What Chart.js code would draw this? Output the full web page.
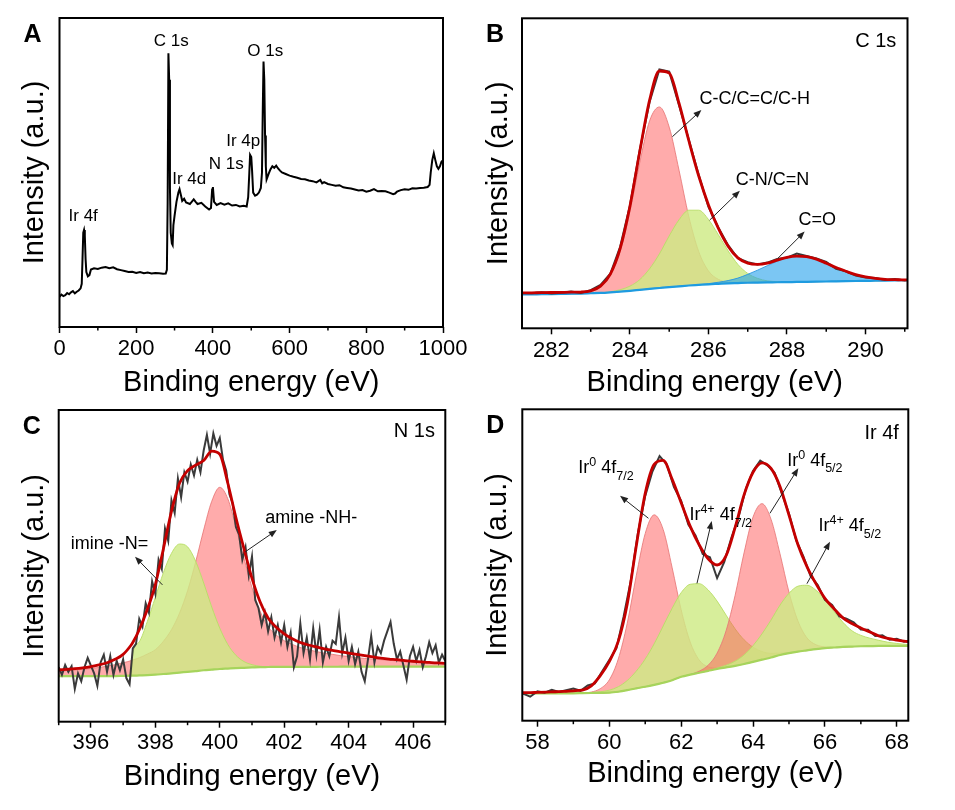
<!DOCTYPE html>
<html><head><meta charset="utf-8">
<script src="https://cdn.jsdelivr.net/npm/chart.js@4.4.1/dist/chart.umd.min.js"></script>
<style>
html,body{margin:0;padding:0;background:#fff;}
body{width:955px;height:810px;position:relative;overflow:hidden;}
canvas{position:absolute;left:0;top:0;}
</style></head><body>
<canvas id="pA" width="955" height="810"></canvas>
<canvas id="pB" width="955" height="810"></canvas>
<canvas id="pC" width="955" height="810"></canvas>
<canvas id="pD" width="955" height="810"></canvas>
<script>
// ---------------- Panel A: survey ----------------
const surveyEnergy = [
 0,5,10,15,20,25,30,35,40,45,
 50,55,58,60,62,64,66,68,70,74,
 78,82,90,100,110,120,130,140,150,160,
 170,180,190,200,210,220,230,240,250,260,
 270,277,280,282,284,286,288,290,293,295,
 297,300,305,310,313,317,320,325,330,340,
 350,355,360,370,380,390,395,398,400,403,
 410,420,430,440,450,460,470,480,488,492,
 495,497,500,502,505,510,515,520,525,528,
 530,532,534,536,538,540,545,550,555,560,
 565,570,575,580,590,600,610,620,630,640,
 650,660,670,680,685,690,700,710,720,730,
 740,750,760,770,780,790,800,810,820,830,
 840,850,860,870,875,880,890,900,910,920,
 930,940,950,960,965,968,972,976,980,984,
 988,992,996,1000];
const surveyIntensity = [
 9.8,10.5,10.0,10.3,11.0,10.6,11.2,11.6,10.9,11.4,
 11.8,12.5,14,22,30.5,31.4,29.5,22,17.8,16.4,
 16.8,18.6,19.0,18.8,19.2,19.4,19.0,19.3,18.7,18.4,
 18.1,17.8,17.9,17.5,17.8,17.4,17.6,17.3,17.5,17.4,
 17.2,17.3,18.5,40,88.6,80,45,30.5,27.0,26.5,
 33,36,40.5,43.5,44.6,42.5,40.8,41.5,40.3,39.8,
 41.3,40.5,39.8,40.2,39.0,38.0,38.5,44.5,45.3,40.5,
 39.5,40.1,39.6,40.0,39.3,39.5,39.0,39.2,39.0,42,
 50,55.7,55.0,51,43.5,42.5,42.8,43.5,45.0,50.0,
 70,85.9,80,62,52,47.8,49.5,51.0,52.0,51.5,
 52.2,51.3,50.6,50.0,49.5,49.0,48.6,48.3,47.9,47.8,
 47.4,47.2,46.8,47.6,46.5,46.9,46.3,46.0,45.7,45.9,
 45.2,45.0,44.8,44.5,44.2,44.3,43.8,44.1,44.6,43.9,
 44.0,43.9,43.5,43.0,43.2,43.8,44.3,44.6,44.4,44.9,
 44.8,45.0,45.1,45.3,46,50,54,56.2,54,52.0,
 51.2,52.0,53.5,54];
const surveyTicks = [0,200,400,600,800,1000];

// ---------------- Panel B: C 1s ----------------
const c1sEnergy = [281,281.25,281.5,281.75,282,282.25,282.5,282.75,283,283.25,
 283.5,283.75,284,284.25,284.5,284.75,285,285.25,285.5,285.75,
 286,286.25,286.5,286.75,287,287.25,287.5,287.75,288,288.25,
 288.5,288.75,289,289.25,289.5,289.75,290,290.25,290.5,290.75,
 291,291.25];
const c1sRaw = [11.6,11.4,11.3,11.6,11.2,11.5,11.9,11.4,12.3,14.0,
 17.6,26.3,39.6,57.5,73.0,83.5,82.8,72.0,60.8,49.5,
 39.2,32.5,26.8,22.6,21.3,20.6,21.2,22.4,22.8,24.1,
 23.3,22.5,21.4,19.2,18.4,17.0,16.4,16.2,15.6,15.9,
 15.4,15.9];
const c1sEnvelope = [11.4,11.4,11.45,11.5,11.55,11.6,11.65,11.7,12.1,13.6,
 17.5,25.7,39.4,57.0,73.6,83.0,82.3,72.6,60.5,49.2,
 39.8,32.3,26.5,22.7,21.0,20.6,21.0,22.0,22.9,23.3,
 23.1,22.3,21.0,19.6,18.4,17.3,16.6,16.1,15.8,15.7,
 15.6,15.6];
const c1sBaseline = [10.9,10.9,10.95,11.0,11.05,11.1,11.15,11.2,11.3,11.4,
 11.6,11.85,12.1,12.4,12.7,13.0,13.3,13.55,13.8,14.0,
 14.2,14.35,14.5,14.6,14.7,14.75,14.8,14.85,14.9,14.95,
 15.0,15.05,15.1,15.15,15.2,15.25,15.3,15.35,15.4,15.45,
 15.5,15.5];
const c1sCC = [10.9,10.9,10.95,11.0,11.05,11.1,11.15,11.2,11.8,13.3,
 17.1,24.9,37.7,53.5,66.9,71.4,64.9,51,36,24.8,
 18.5,15.8,14.9,14.65,14.7,14.75,14.8,14.85,14.9,14.95,
 15.0,15.05,15.1,15.15,15.2,15.25,15.3,15.35,15.4,15.45,
 15.5,15.5];
const c1sCN = [10.9,10.9,10.95,11.0,11.05,11.1,11.15,11.2,11.3,11.4,
 11.8,12.45,13.6,15.7,19.2,24.0,29.8,35.0,38.1,38.1,
 35.1,30.2,25.0,20.6,17.7,16.1,15.3,15.05,14.9,14.95,
 15.0,15.05,15.1,15.15,15.2,15.25,15.3,15.35,15.4,15.45,
 15.5,15.5];
const c1sCO = [10.9,10.9,10.95,11.0,11.05,11.1,11.15,11.2,11.3,11.4,
 11.6,11.85,12.1,12.4,12.7,13.0,13.3,13.55,13.8,14.0,
 14.4,14.85,15.4,16.2,17.4,18.75,20.2,21.65,22.8,23.25,
 23.0,22.15,20.9,19.45,18.2,17.15,16.4,15.9,15.7,15.55,
 15.55,15.5];
const c1sTicks = [282,284,286,288,290];

// ---------------- Panel C: N 1s ----------------
const n1sEnergy = [395,395.25,395.5,395.75,396,396.25,396.5,396.75,397,397.25,
 397.3,
 397.5,397.75,398,398.25,398.5,398.75,399,399.25,399.5,399.75,400,
 400.25,400.5,400.75,401,401.25,401.5,401.75,402,402.25,402.5,
 402.75,403,403.25,403.5,403.75,404,404.25,404.5,404.75,405,
 405.25,405.5,405.75,406,406.25,406.5,406.75,407];
const n1sEnvelope = [16.6,16.8,17.0,17.3,17.7,18.2,18.9,20.0,21.6,24.6,
 25.4,
 29.5,36,44,55.5,67.5,76.5,80.5,82.3,83.8,86.8,85.8,
 76.5,65.5,55.5,46,38.5,33.3,30.3,28.2,26.6,25.4,
 24.6,24.0,23.4,22.9,22.4,22.0,21.6,21.2,20.8,20.4,
 20.1,19.9,19.6,19.4,19.2,19.0,18.85,18.7];
const n1sBaseline = [14.6,14.6,14.6,14.6,14.6,14.6,14.65,14.65,14.7,14.75,
 14.76,
 14.85,14.95,15.1,15.3,15.5,15.75,16.0,16.25,16.5,16.7,16.9,
 17.05,17.2,17.3,17.4,17.5,17.55,17.6,17.6,17.6,17.6,
 17.62,17.62,17.63,17.63,17.64,17.65,17.65,17.66,17.67,17.67,
 17.68,17.68,17.69,17.7,17.7,17.7,17.7,17.7];
const n1sAmine = [16.2,16.4,16.6,16.8,17.1,17.4,17.8,18.3,18.9,19.6,
 19.8,
 20.5,21.7,23.1,25.8,29.5,34.8,42,51.2,61.5,70.7,75.2,
 71.5,62.5,52.5,43.0,35.5,30.5,27.8,26.0,24.8,23.8,
 23.1,22.5,22.0,21.6,21.2,20.9,20.6,20.3,20.1,19.9,
 19.7,19.5,19.3,19.15,19.0,18.85,18.75,18.6];
const n1sImine = [14.6,14.6,14.6,14.6,14.6,14.6,14.65,14.65,14.7,14.75,
 21.8,
 25.6,32.1,39.9,47.8,54.0,57.0,56.1,51.5,44.5,36.8,30.0,
 24.75,21.3,19.3,18.3,17.8,17.6,17.6,17.6,17.6,17.6,
 17.62,17.62,17.63,17.63,17.64,17.65,17.65,17.66,17.67,17.67,
 17.68,17.68,17.69,17.7,17.7,17.7,17.7,17.7];
const n1sRawEnergy = [
 395.0,395.1,395.2,395.3,395.4,395.5,395.6,395.7,395.8,395.9,
 396.0,396.1,396.2,396.3,396.4,396.5,396.6,396.7,396.8,396.9,
 397.0,397.1,397.2,397.3,397.4,397.5,397.6,397.7,397.8,397.9,
 398.0,398.1,398.2,398.3,398.4,398.5,398.6,398.7,398.8,398.9,
 399.0,399.1,399.2,399.3,399.4,399.5,399.6,399.7,399.8,399.9,
 400.0,400.1,400.2,400.3,400.4,400.5,400.6,400.7,400.8,400.9,
 401.0,401.1,401.2,401.3,401.4,401.5,401.6,401.7,401.8,401.9,
 402.0,402.1,402.2,402.3,402.4,402.5,402.6,402.7,402.8,402.9,
 403.0,403.1,403.2,403.3,403.4,403.5,403.6,403.7,403.8,403.9,
 404.0,404.1,404.2,404.3,404.4,404.5,404.6,404.7,404.8,404.9,
 405.0,405.1,405.2,405.3,405.4,405.5,405.6,405.7,405.8,405.9,
 406.0,406.1,406.2,406.3,406.4,406.5,406.6,406.7,406.8,406.9,
 407.0];
const n1sRaw = [
 17.5,15.0,18.2,16.0,17.8,10.5,15.5,13.0,17.5,20.5,
 18.0,15.5,11.5,19.0,21.5,16.0,21.0,15.0,19.5,16.5,
 20.0,14.0,12.0,23.5,25.0,33.0,30.5,38.0,35.0,45.0,
 41.0,52.0,49.0,62.0,58.0,71.0,67.0,78.0,72.0,80.0,
 77.0,82.5,79.0,84.0,80.0,87.0,92.0,86.0,92.5,88.5,
 91.0,84.0,80.5,73.0,70.0,62.5,60.0,52.0,56.0,47.0,
 53.0,39.0,36.5,31.0,35.0,29.0,33.5,27.0,31.0,25.5,
 31.0,24.0,28.5,17.5,21.0,31.5,22.0,27.0,20.0,30.0,
 21.5,29.5,19.0,24.0,21.0,26.0,25.0,33.5,22.0,27.0,
 19.5,24.0,18.5,22.5,16.0,13.0,20.0,27.5,19.0,24.0,
 22.0,26.0,29.0,32.0,25.0,20.0,22.5,18.0,13.5,21.0,
 24.0,19.5,23.0,17.5,21.0,25.5,22.0,24.5,19.0,21.5,
 19.5];
const n1sTicks = [396,398,400,402,404,406];

// ---------------- Panel D: Ir 4f ----------------
const ir4fEnergy = [57.5,57.75,58,58.25,58.5,58.75,59,59.25,59.5,59.75,
 60,60.25,60.5,60.75,61,61.25,61.5,61.75,62,62.25,
 62.5,62.75,63,63.25,63.5,63.75,64,64.25,64.5,64.75,
 65,65.25,65.5,65.75,66,66.25,66.5,66.75,67,67.25,
 67.5,67.75,68,68.25,68.5];
const ir4fEnvelope = [9.0,9.0,9.1,9.2,9.3,9.4,9.6,9.8,11.2,14.5,
 19.0,25.5,37.5,56,73,82.3,83.6,77.5,70,62.5,
 56.5,52,50.0,53,62,72.5,79.8,82.8,81.0,75.2,
 66,56.5,49.5,44,39.3,36,33,31.2,29.8,28.5,
 27.2,26.4,25.9,25.5,25.3];
const ir4fBaseline = [8.8,8.8,8.8,8.8,8.8,8.8,8.8,8.85,8.9,8.95,
 9.0,9.3,9.8,10.4,10.9,11.5,12.2,13.0,14.1,14.8,
 15.4,16.0,16.6,17.1,17.6,18.2,18.9,19.6,20.3,21.1,
 21.7,22.2,22.6,23.0,23.3,23.5,23.7,23.8,23.9,23.95,
 24.0,24.0,24.0,24.0,24.0];
const ir0_72 = [8.8,8.8,8.8,8.8,8.8,8.8,8.8,8.85,9.2,10.3,
 13.1,19.8,31.3,46.5,60.1,66.1,61.4,49.1,35.6,25.3,
 19.5,17.3,16.9,17.1,17.6,18.2,18.9,19.6,20.3,21.1,
 21.7,22.2,22.6,23.0,23.3,23.5,23.7,23.8,23.9,23.95,
 24.0,24.0,24.0,24.0,24.0];
const ir4_72 = [8.8,8.8,8.8,8.8,8.8,8.8,8.8,8.85,9.0,9.3,
 9.8,10.9,12.9,15.9,19.8,24.7,30.4,36.1,41.1,43.8,
 44.0,42.0,38.4,33.9,29.5,26.0,23.6,22.2,21.6,21.7,
 21.9,22.3,22.6,23.0,23.3,23.5,23.7,23.8,23.9,23.95,
 24.0,24.0,24.0,24.0,24.0];
const ir0_52 = [8.8,8.8,8.8,8.8,8.8,8.8,8.8,8.85,8.9,8.95,
 9.0,9.3,9.8,10.4,10.9,11.5,12.2,13.0,14.1,14.8,
 15.9,17.8,21.7,28.9,40.2,53.9,65.4,69.7,64.7,53.6,
 41.3,32.0,26.6,24.4,23.7,23.55,23.7,23.8,23.9,23.95,
 24.0,24.0,24.0,24.0,24.0];
const ir4_52 = [8.8,8.8,8.8,8.8,8.8,8.8,8.8,8.85,8.9,8.95,
 9.0,9.3,9.8,10.4,10.9,11.5,12.2,13.0,14.1,14.8,
 15.4,16.0,16.9,17.8,19.1,21.1,24.1,27.9,32.3,37.1,
 40.9,43.2,43.5,41.9,38.8,35.1,31.6,28.9,27.4,26.5,
 25.8,25.2,24.8,24.5,24.3];
const ir4fRawEnergy = [57.5,
 57.6,57.8,58.0,58.2,58.4,58.6,58.8,59.0,59.2,59.4,
 59.6,59.8,60.0,60.2,60.4,60.6,60.8,61.0,61.2,61.4,
 61.6,61.8,62.0,62.2,62.4,62.6,62.8,63.0,63.2,63.4,
 63.6,63.8,64.0,64.2,64.4,64.6,64.8,65.0,65.2,65.4,
 65.6,65.8,66.0,66.2,66.4,66.6,66.8,67.0,67.2,67.4,
 67.6,67.8,68.0,68.2,68.4];
const ir4fRaw = [9.1,
 8.7,7.7,9.4,9.0,9.9,9.2,9.8,10.3,9.6,11.3,
 12.0,15.8,19.5,23.3,33.5,45.0,60.5,72.2,80.0,85.0,
 82.3,75.0,70.6,63.0,59.5,53.5,52.5,45.8,51.0,58.8,
 65.5,74.5,80.2,83.5,82.0,79.6,73.0,66.5,58.0,52.8,
 46.5,43.6,38.8,37.2,33.5,32.8,31.6,29.3,29.2,27.2,
 27.4,26.0,26.3,25.4,25.8];
const ir4fTicks = [58,60,62,64,66,68];

// ---------------- rendering ----------------
const FONT = '"Liberation Sans", Arial, Helvetica, sans-serif';
Chart.defaults.font.family = FONT;
Chart.defaults.color = '#000';

const pts = (xs, ys) => xs.map((x, i) => ({x: x, y: ys[i]}));
function ds(xs, ys, o) {
  return Object.assign({data: pts(xs, ys), pointRadius: 0, borderWidth: 1, fill: false,
    tension: 0, clip: 0}, o);
}
const SMOOTH = {cubicInterpolationMode: 'monotone'};
const RED_FILL = 'rgba(255,88,88,0.5)', RED_LINE = 'rgba(232,120,120,0.85)';
const GRN_FILL = 'rgba(206,234,133,0.82)', GRN_LINE = 'rgba(185,222,105,0.95)';
const BLU_FILL = 'rgba(35,160,235,0.6)', BLU_LINE = 'rgba(40,150,225,0.9)';
const ENV = '#C40000', RAW = '#3a3a3a';

function drawArrow(ctx, x1, y1, x2, y2) {
  const ang = Math.atan2(y2 - y1, x2 - x1), L = 8, W = 3.2;
  ctx.strokeStyle = '#222'; ctx.fillStyle = '#222'; ctx.lineWidth = 1;
  ctx.beginPath(); ctx.moveTo(x1, y1);
  ctx.lineTo(x2 - Math.cos(ang) * L * 0.8, y2 - Math.sin(ang) * L * 0.8); ctx.stroke();
  ctx.beginPath(); ctx.moveTo(x2, y2);
  ctx.lineTo(x2 - Math.cos(ang) * L + Math.sin(ang) * W, y2 - Math.sin(ang) * L - Math.cos(ang) * W);
  ctx.lineTo(x2 - Math.cos(ang) * L - Math.sin(ang) * W, y2 - Math.sin(ang) * L + Math.cos(ang) * W);
  ctx.closePath(); ctx.fill();
}

function decoPlugin(letter, majors, notes) {
  return {
    id: 'deco' + letter,
    afterDraw(chart) {
      const ctx = chart.ctx, a = chart.chartArea, sx = chart.scales.x, sy = chart.scales.y;
      ctx.save();
      // minor ticks
      const step = majors[1] - majors[0];
      const minors = [majors[0] - step / 2];
      for (let i = 0; i < majors.length; i++) minors.push(majors[i] + step / 2);
      ctx.strokeStyle = '#000'; ctx.lineWidth = 1.5;
      minors.forEach(v => {
        if (v < sx.min - 1e-9 || v > sx.max + 1e-9) return;
        const p = sx.getPixelForValue(v);
        ctx.beginPath(); ctx.moveTo(p, a.bottom); ctx.lineTo(p, a.bottom + 3.5); ctx.stroke();
      });
      // frame
      ctx.lineWidth = 2; ctx.strokeStyle = '#000';
      ctx.strokeRect(a.left, a.top, a.right - a.left, a.bottom - a.top);
      // panel letter
      ctx.fillStyle = '#000';
      ctx.font = 'bold 25px ' + FONT; ctx.textAlign = 'center'; ctx.textBaseline = 'alphabetic';
      ctx.fillText(letter, a.left - 27, a.top + 23.5);
      // notes
      notes.forEach(n => {
        if (n.arrow) {
          drawArrow(ctx, sx.getPixelForValue(n.arrow[0]), sy.getPixelForValue(n.arrow[1]),
                         sx.getPixelForValue(n.arrow[2]), sy.getPixelForValue(n.arrow[3]));
        } else if (n.parts) {
          let x = sx.getPixelForValue(n.x); const y = sy.getPixelForValue(n.y);
          ctx.fillStyle = '#000'; ctx.textAlign = 'left'; ctx.textBaseline = 'alphabetic';
          n.parts.forEach(p => {
            const size = p.d ? 12.5 : 18;
            ctx.font = size + 'px ' + FONT;
            const dy = p.d === 1 ? -7 : (p.d === -1 ? 6.5 : 0);
            ctx.fillText(p.t, x, y + dy);
            x += ctx.measureText(p.t).width;
          });
        } else {
          ctx.fillStyle = '#000'; ctx.textAlign = 'center'; ctx.textBaseline = 'middle';
          ctx.font = (n.size || 18) + 'px ' + FONT;
          ctx.fillText(n.t, sx.getPixelForValue(n.x), sy.getPixelForValue(n.y));
        }
      });
      ctx.restore();
    }
  };
}

function makePanel(id, g, xMin, xMax, majors, datasets, plugin) {
  return new Chart(document.getElementById(id), {
    type: 'line',
    data: {datasets: datasets},
    options: {
      responsive: false, animation: false, devicePixelRatio: 1, events: [],
      layout: {autoPadding: false, padding: {left: g.pl, right: g.pr, top: g.pt, bottom: g.pb}},
      plugins: {legend: {display: false}, tooltip: {enabled: false}},
      scales: {
        x: {
          type: 'linear', min: xMin, max: xMax,
          afterBuildTicks: s => { s.ticks = majors.map(v => ({value: v})); },
          afterFit: s => { s.height = g.xh; },
          ticks: {font: {size: 22}, color: '#000', padding: g.tp, maxRotation: 0, autoSkip: false,
                  callback: v => String(v)},
          grid: {display: true, drawOnChartArea: false, drawTicks: true, tickLength: 6,
                 tickWidth: 1.5, tickColor: '#000'},
          border: {display: false},
          title: {display: true, text: 'Binding energy (eV)', font: {size: 29}, color: '#000', padding: 0}
        },
        y: {
          type: 'linear', min: 0, max: 100,
          afterFit: s => { s.width = g.yw; },
          ticks: {display: false}, grid: {display: false}, border: {display: false},
          title: {display: true, text: 'Intensity (a.u.)', font: {size: 29}, color: '#000', padding: 0}
        }
      }
    },
    plugins: [plugin]
  });
}

// Panel A
makePanel('pA', {pl: 17.6, yw: 41.9, pr: 512, pt: 18, xh: 73.7, pb: 409.3, tp: 2.5}, 0, 1000, surveyTicks,
  [ds(surveyEnergy, surveyIntensity, {borderColor: '#000', borderWidth: 2})],
  decoPlugin('A', surveyTicks, [
    {x: 291.3, y: 92.6, t: 'C 1s', size: 17}, {x: 536.5, y: 89.3, t: 'O 1s', size: 17},
    {x: 479, y: 60.2, t: 'Ir 4p', size: 17}, {x: 434.8, y: 52.6, t: 'N 1s', size: 17},
    {x: 338.3, y: 47.9, t: 'Ir 4d', size: 17}, {x: 61.8, y: 35.8, t: 'Ir 4f', size: 17}
  ]));

// Panel B
makePanel('pB', {pl: 481.1, yw: 40.9, pr: 47.5, pt: 18.3, xh: 72.4, pb: 409.3, tp: 3}, 281.25, 291.07, c1sTicks,
  [ds(c1sEnergy, c1sEnvelope, Object.assign({borderColor: ENV, borderWidth: 2.8}, SMOOTH)),
   ds(c1sEnergy, c1sRaw, {borderColor: RAW, borderWidth: 2}),
   ds(c1sEnergy, c1sBaseline, Object.assign({borderColor: '#1E9BE0', borderWidth: 2.2}, SMOOTH)),
   ds(c1sEnergy, c1sCO, Object.assign({borderColor: BLU_LINE, backgroundColor: BLU_FILL, fill: {target: 2}}, SMOOTH)),
   ds(c1sEnergy, c1sCN, Object.assign({borderColor: GRN_LINE, backgroundColor: GRN_FILL, fill: {target: 2}}, SMOOTH)),
   ds(c1sEnergy, c1sCC, Object.assign({borderColor: RED_LINE, backgroundColor: RED_FILL, fill: {target: 2}}, SMOOTH))],
  decoPlugin('B', c1sTicks, [
    {x: 290.26, y: 92.5, t: 'C 1s', size: 20},
    {x: 287.18, y: 73.8, t: 'C-C/C=C/C-H'}, {arrow: [285.08, 61.8, 285.82, 70.4]},
    {x: 287.63, y: 47.8, t: 'C-N/C=N'}, {arrow: [286.03, 34.9, 286.8, 44.4]},
    {x: 288.77, y: 34.9, t: 'C=O'}, {arrow: [287.77, 22.6, 288.45, 31.2]}
  ]));

// Panel C
makePanel('pC', {pl: 17.6, yw: 41.1, pr: 509.7, pt: 410, xh: 72.3, pb: 16, tp: 2}, 395, 407, n1sTicks,
  [ds(n1sEnergy, n1sEnvelope, Object.assign({borderColor: ENV, borderWidth: 2.8}, SMOOTH)),
   ds(n1sRawEnergy, n1sRaw, {borderColor: RAW, borderWidth: 2}),
   ds(n1sEnergy, n1sBaseline, Object.assign({borderColor: '#A6D45C', borderWidth: 2.2}, SMOOTH)),
   ds(n1sEnergy, n1sImine, Object.assign({borderColor: GRN_LINE, backgroundColor: GRN_FILL, fill: {target: 2}}, SMOOTH)),
   ds(n1sEnergy, n1sAmine, Object.assign({borderColor: RED_LINE, backgroundColor: RED_FILL, fill: {target: 2}}, SMOOTH))],
  decoPlugin('C', n1sTicks, [
    {x: 406.04, y: 93.0, t: 'N 1s', size: 20},
    {x: 396.58, y: 56.9, t: 'imine -N='}, {arrow: [398.22, 43.9, 397.37, 52.9]},
    {x: 402.84, y: 65.4, t: 'amine -NH-'}, {arrow: [400.79, 54.5, 401.77, 61.5]}
  ]));

// Panel D
makePanel('pD', {pl: 480.1, yw: 42.2, pr: 46.7, pt: 409.3, xh: 70.7, pb: 18.6, tp: 3}, 57.58, 68.32, ir4fTicks,
  [ds(ir4fEnergy, ir4fEnvelope, Object.assign({borderColor: ENV, borderWidth: 2.8}, SMOOTH)),
   ds(ir4fRawEnergy, ir4fRaw, {borderColor: RAW, borderWidth: 2}),
   ds(ir4fEnergy, ir4fBaseline, Object.assign({borderColor: '#A6D45C', borderWidth: 2.2}, SMOOTH)),
   ds(ir4fEnergy, ir4_52, Object.assign({borderColor: GRN_LINE, backgroundColor: GRN_FILL, fill: {target: 2}}, SMOOTH)),
   ds(ir4fEnergy, ir0_52, Object.assign({borderColor: RED_LINE, backgroundColor: RED_FILL, fill: {target: 2}}, SMOOTH)),
   ds(ir4fEnergy, ir4_72, Object.assign({borderColor: GRN_LINE, backgroundColor: GRN_FILL, fill: {target: 2}}, SMOOTH)),
   ds(ir4fEnergy, ir0_72, Object.assign({borderColor: RED_LINE, backgroundColor: RED_FILL, fill: {target: 2}}, SMOOTH))],
  decoPlugin('D', ir4fTicks, [
    {x: 67.58, y: 92.2, t: 'Ir 4f', size: 20},
    {x: 59.14, y: 79.45, parts: [{t: 'Ir'}, {t: '0', d: 1}, {t: ' 4f'}, {t: '7/2', d: -1}]},
    {arrow: [61.09, 65.0, 60.3, 72.2]},
    {x: 62.23, y: 64.45, parts: [{t: 'Ir'}, {t: '4+', d: 1}, {t: ' 4f'}, {t: '7/2', d: -1}]},
    {arrow: [62.44, 44.1, 62.85, 64.1]},
    {x: 64.95, y: 81.8, parts: [{t: 'Ir'}, {t: '0', d: 1}, {t: ' 4f'}, {t: '5/2', d: -1}]},
    {arrow: [64.47, 66.6, 65.26, 81.1]},
    {x: 65.82, y: 60.9, parts: [{t: 'Ir'}, {t: '4+', d: 1}, {t: ' 4f'}, {t: '5/2', d: -1}]},
    {arrow: [65.5, 44.0, 66.14, 57.5]}
  ]));
</script>
</body></html>
